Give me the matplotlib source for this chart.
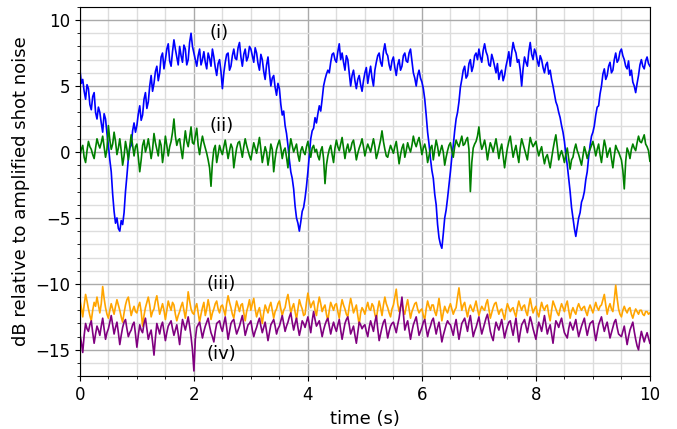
import matplotlib
matplotlib.use("Agg")
import matplotlib.pyplot as plt
import numpy as np
from matplotlib.ticker import MultipleLocator

trace_i = [
    6.3, 5.2, 5.5, 4.6, 4.0, 5.1, 4.8, 3.6, 3.2, 4.2, 4.5, 3.0, 2.5, 3.4, 3.0, 2.2, 1.5, 2.9, 2.5, 1.4,
    0.5, -0.6, -1.5, -3.2, -4.5, -5.4, -5.0, -5.8, -6.0, -5.2, -5.5, -4.6, -3.0, -1.8, -0.5, 0.3, 0.5, 1.6, 2.2, 1.5,
    2.0, 2.9, 3.5, 2.4, 2.8, 4.0, 4.5, 3.3, 3.8, 5.0, 5.8, 4.6, 5.2, 6.1, 6.5, 5.4, 6.0, 7.2, 7.5, 6.3,
    7.0, 7.8, 8.2, 6.9, 6.5, 7.6, 8.5, 7.8, 7.2, 6.6, 8.0, 7.3, 6.8, 8.1, 7.8, 6.6, 7.0, 8.3, 9.0, 8.0,
    7.5, 7.0, 6.5, 7.3, 7.8, 6.6, 7.0, 7.6, 6.8, 6.3, 7.5, 7.1, 6.5, 7.8, 7.2, 6.4, 5.8, 6.7, 7.0, 6.1,
    4.8, 6.0, 6.8, 7.4, 7.5, 6.2, 6.5, 7.3, 7.8, 7.1, 7.0, 7.9, 8.3, 7.2, 6.5, 7.4, 7.8, 6.9, 7.2, 8.0,
    7.8, 7.3, 6.8, 7.9, 7.5, 6.7, 6.2, 7.4, 7.0, 6.1, 5.5, 6.6, 7.2, 6.0, 5.0, 5.6, 5.8, 4.9, 4.3, 5.2,
    4.8, 3.6, 2.8, 3.1, 2.0, 1.4, 0.5, -0.6, -1.5, -2.0, -2.8, -4.1, -5.0, -5.4, -6.0, -5.3, -4.5, -4.2, -3.5, -2.6,
    -1.5, -0.2, 1.0, 1.6, 1.8, 2.6, 2.2, 2.9, 3.5, 3.1, 4.0, 5.0, 5.5, 5.9, 6.2, 6.0, 6.8, 7.4, 7.5, 7.0,
    6.8, 7.6, 8.2, 7.0, 7.5, 6.8, 6.2, 7.3, 7.0, 6.0, 5.0, 5.8, 6.2, 5.4, 4.8, 5.5, 5.8, 5.1, 4.6, 5.4,
    6.0, 6.4, 5.2, 5.9, 6.5, 5.6, 5.0, 6.2, 6.8, 7.3, 7.5, 6.8, 6.5, 7.6, 8.2, 7.5, 7.3, 6.6, 6.2, 6.9,
    7.2, 6.4, 5.8, 6.6, 7.0, 6.2, 6.5, 7.3, 7.5, 6.9, 6.8, 7.5, 7.8, 6.9, 6.0, 5.6, 5.0, 5.8, 6.2, 5.6,
    5.3, 4.8, 4.0, 2.8, 1.5, 0.6, -0.5, -1.4, -2.0, -3.2, -4.0, -5.5, -6.5, -7.0, -7.3, -6.2, -5.0, -4.4, -3.5, -2.5,
    -1.5, -0.4, 0.5, 1.6, 2.5, 3.0, 3.8, 4.9, 5.5, 6.2, 6.5, 5.6, 5.8, 6.7, 7.0, 6.1, 6.5, 7.3, 7.5, 7.0,
    7.8, 7.2, 6.8, 7.7, 8.2, 7.6, 7.3, 6.6, 6.5, 7.4, 7.0, 6.5, 6.0, 6.7, 5.5, 6.0, 6.2, 5.4, 5.8, 6.5,
    7.0, 7.6, 6.5, 7.5, 8.3, 7.8, 7.5, 6.8, 7.0, 6.2, 5.0, 6.3, 7.2, 6.8, 6.5, 7.6, 8.3, 7.4, 7.0, 7.8,
    7.5, 6.9, 6.5, 7.3, 7.0, 6.4, 6.0, 6.6, 6.8, 5.9, 6.2, 5.5, 5.0, 4.4, 3.8, 3.5, 3.0, 2.6, 2.0, 1.5,
    0.8, -0.2, -1.0, -2.0, -3.0, -4.2, -5.0, -5.8, -6.4, -5.7, -5.0, -4.6, -3.8, -3.5, -3.0, -2.1, -1.5, -0.4, 0.5, 1.2,
    1.5, 2.0, 2.8, 3.4, 3.5, 4.4, 5.0, 5.9, 6.3, 5.5, 5.8, 6.5, 6.8, 6.0, 6.2, 7.0, 7.5, 6.8, 7.0, 7.6,
    7.8, 7.3, 7.0, 6.5, 6.3, 6.9, 5.8, 6.2, 5.3, 5.0, 4.5, 5.2, 5.8, 6.6, 7.0, 6.5, 6.3, 6.9, 7.2, 6.7,
    6.5,
]
trace_ii = [
    -0.3, 0.2, 0.5, -0.4, -0.8, 0.1, 0.8, 0.4, 0.2, -0.2, -0.5, 0.3, 1.0, 0.6, 0.3, 0.7, 1.2, 0.4, -0.4, 0.2,
    2.0, 0.9, 0.2, 0.6, 1.5, 0.8, -0.2, 0.3, 1.0, 0.1, -1.0, -0.3, 0.8, 0.2, -0.6, 0.4, 1.3, 0.5, -0.3, 0.4,
    0.6, -0.4, -1.5, -0.6, 0.5, 0.9, 0.0, 0.4, 1.0, 0.3, -0.5, 0.2, 1.4, 0.7, 0.2, -0.3, 0.9, 0.5, -0.8, 0.0,
    1.2, 0.5, -0.3, 0.4, 0.8, 1.5, 2.5, 1.2, 0.5, 0.9, 1.0, 0.2, -0.5, 0.6, 1.6, 0.8, 0.4, 1.1, 1.9, 0.7,
    0.6, 1.2, 1.8, 0.5, -0.2, 0.6, 1.2, 0.7, 0.3, -0.1, -0.6, -1.2, -2.6, -0.8, 0.2, 0.5, -0.8, -0.2, 0.5, 0.1,
    -0.2, 0.4, 0.9, 0.2, -0.5, 0.1, 0.6, 0.3, -1.2, -0.4, 0.3, 0.7, 0.8, 0.2, -0.4, 0.4, 1.0, 0.5, 0.1, -0.3,
    -0.6, 0.1, 0.7, 0.3, -0.1, 0.5, 1.1, 0.2, -0.8, -0.2, 0.4, 0.0, -1.0, -0.3, 0.6, 0.2, -1.5, -0.5, 0.2, 0.6,
    0.9, 0.3, -0.5, 0.1, 0.3, -0.4, -1.2, 0.2, 1.0, 0.5, 0.0, 0.3, 0.6, -0.2, -0.7, 0.1, 0.4, 0.0, -0.2, 0.4,
    0.8, 0.2, -0.4, 0.3, 0.5, 0.0, 0.2, -0.3, -0.6, 0.1, 0.4, -0.5, -2.4, -1.0, -0.3, 0.2, 0.5, -0.2, -0.8, 0.3,
    0.9, 0.4, 0.1, 0.6, 1.1, 0.3, -0.5, 0.2, 0.6, 0.0, 0.2, 0.7, 0.9, 0.2, -0.6, -0.1, 0.3, 0.6, 1.0, 0.4,
    -0.3, 0.2, 0.6, 0.3, 0.0, 0.5, 1.0, 0.4, -0.5, -0.1, 0.4, 0.9, 1.6, 0.8, 0.2, -0.3, -0.4, 0.1, 0.5, 0.2,
    -0.1, 0.4, 0.8, 0.0, -0.9, -0.2, 0.3, 0.6, -0.4, 0.1, 0.7, 0.3, 0.0, 0.5, 1.2, 0.7, 0.4, 0.8, 1.1, 0.5,
    -0.2, 0.3, 0.6, 0.1, -0.8, -0.3, 0.3, 0.5, -0.6, 0.2, 0.9, 0.4, -0.3, 0.1, 0.5, 0.0, -1.0, -0.4, 0.1, 0.5,
    0.7, 0.1, -0.4, 0.4, 0.9, 0.6, 0.4, 0.8, 1.2, 0.5, 0.6, 0.9, 1.1, 0.2, -3.0, -0.8, 0.3, 0.6, 0.8, 1.2,
    1.9, 0.8, 0.2, 0.5, 0.9, 0.3, -0.6, 0.1, 0.7, 0.4, 0.0, 0.5, 1.0, 0.3, -0.5, 0.2, 0.6, -0.3, -1.2, -0.4,
    0.3, 0.8, 1.2, 0.4, -0.4, 0.1, 0.5, -0.2, -0.8, 0.3, 1.0, 0.6, 0.2, -0.2, -0.6, 0.3, 1.1, 0.7, 0.4, 0.6,
    0.8, 0.2, -0.3, 0.1, 0.4, -0.3, -0.9, -0.4, -0.2, -0.7, -1.2, -0.5, 0.2, 0.8, 1.3, 0.4, -0.6, -0.2, 0.1, -0.3,
    -0.8, -0.2, 0.3, -0.5, -1.3, -0.6, -0.4, 0.2, 0.6, 0.1, -0.2, -0.6, -1.0, -0.3, 0.4, 0.0, -0.5, -0.1, 0.2, 0.5,
    0.8, 0.3, -0.3, 0.2, 0.6, -0.2, -0.8, 0.1, 0.9, 0.4, -0.4, 0.0, 0.3, -0.5, -1.2, -0.3, 0.5, 0.2, 0.0, -0.3,
    -0.6, -1.4, -2.8, -0.7, 0.3, 0.0, -0.5, 0.2, 0.6, 0.3, 0.1, 0.7, 1.2, 0.8, 0.7, 1.0, 1.3, 0.6, 0.4, 0.1,
    -0.7,
]
trace_iii = [
    -11.2, -11.8, -12.5, -11.6, -10.8, -11.3, -11.9, -12.4, -12.8, -12.0, -11.4, -11.7, -11.0, -11.6, -12.2, -11.5, -10.2, -11.1, -11.8, -12.3,
    -12.6, -12.0, -11.5, -11.9, -12.3, -11.7, -11.2, -11.6, -12.0, -12.5, -12.9, -12.2, -11.6, -11.2, -11.0, -11.7, -12.4, -12.0, -11.7, -12.1,
    -12.2, -11.7, -11.4, -12.1, -13.2, -12.4, -11.8, -11.4, -11.0, -11.6, -12.5, -12.1, -11.9, -11.3, -10.9, -11.6, -12.3, -11.9, -11.5, -12.0,
    -12.7, -12.0, -11.3, -11.7, -12.0, -11.4, -11.6, -12.3, -12.8, -12.4, -12.1, -11.7, -11.4, -12.0, -12.6, -11.8, -10.6, -11.3, -11.9, -12.2,
    -12.3, -11.8, -11.5, -12.2, -12.9, -12.3, -11.8, -11.4, -12.4, -11.9, -11.2, -11.8, -12.7, -12.2, -11.9, -11.5, -11.3, -11.9, -12.2, -11.7,
    -11.6, -12.0, -12.4, -11.5, -10.9, -11.4, -11.8, -12.3, -12.6, -11.9, -11.3, -11.7, -12.1, -11.6, -11.5, -12.2, -12.8, -12.1, -11.7, -11.2,
    -12.0, -11.5, -11.1, -11.9, -12.5, -12.1, -11.8, -12.4, -13.0, -12.2, -11.6, -11.9, -12.2, -11.7, -11.4, -12.0, -12.6, -12.1, -11.9, -11.5,
    -11.3, -11.9, -12.4, -12.0, -11.8, -11.2, -10.8, -11.5, -12.2, -11.8, -11.5, -12.1, -12.7, -11.9, -11.2, -11.6, -11.9, -12.4, -12.3, -11.4,
    -10.7, -11.3, -11.8, -11.5, -11.3, -12.0, -12.4, -11.6, -11.0, -11.5, -12.1, -11.8, -11.6, -12.3, -12.8, -12.0, -11.4, -11.7, -12.0, -11.6,
    -11.5, -12.1, -12.6, -11.8, -11.2, -11.6, -11.9, -12.3, -12.5, -11.7, -11.1, -11.6, -12.2, -11.9, -11.6, -12.4, -13.1, -12.2, -11.8, -12.0,
    -12.3, -11.8, -11.4, -11.9, -12.0, -11.5, -11.7, -12.3, -12.7, -11.9, -11.3, -11.8, -12.4, -11.6, -11.0, -11.5, -11.8, -12.2, -12.5, -11.9,
    -11.6, -11.0, -10.4, -11.5, -12.1, -11.7, -11.5, -12.0, -12.3, -11.7, -11.2, -11.9, -12.6, -12.1, -11.8, -11.5, -11.4, -11.9, -12.2, -12.0,
    -11.9, -12.4, -12.7, -11.9, -11.3, -11.7, -12.0, -11.6, -11.6, -12.1, -12.4, -11.8, -11.1, -11.9, -12.8, -12.2, -11.7, -12.0, -12.2, -11.8,
    -11.5, -11.9, -12.3, -12.0, -11.8, -11.0, -10.3, -11.2, -12.0, -11.6, -11.4, -12.0, -12.5, -11.9, -11.6, -11.9, -12.1, -11.7, -11.3, -11.9,
    -12.4, -12.0, -11.7, -11.9, -12.0, -11.5, -11.2, -11.9, -12.6, -12.2, -11.8, -11.5, -11.4, -11.9, -12.3, -12.0, -11.9, -12.3, -12.7, -12.0,
    -11.5, -11.8, -12.1, -11.9, -11.8, -12.2, -12.5, -11.8, -11.3, -11.7, -12.0, -11.7, -11.6, -12.1, -12.4, -11.7, -11.1, -11.7, -12.2, -11.9,
    -11.7, -12.2, -12.5, -11.9, -11.4, -11.8, -12.0, -11.7, -11.6, -12.3, -12.8, -12.0, -11.3, -11.6, -11.9, -12.2, -12.4, -11.9, -11.5, -11.8,
    -12.1, -11.6, -11.3, -12.0, -12.6, -12.1, -11.8, -12.1, -12.3, -11.8, -11.5, -11.8, -12.0, -11.8, -11.7, -12.1, -12.4, -11.9, -11.6, -11.9,
    -12.2, -11.8, -11.4, -11.8, -12.0, -11.7, -11.6, -11.2, -10.8, -11.6, -12.3, -11.8, -11.5, -11.9, -12.1, -11.2, -10.1, -11.1, -11.9, -12.3,
    -12.5, -12.0, -11.7, -12.0, -12.2, -11.9, -11.8, -12.3, -12.6, -12.2, -11.9, -12.1, -12.3, -12.0, -12.0, -12.3, -12.4, -12.1, -12.1, -12.3,
    -12.2,
]
trace_iv = [
    -13.8, -14.4, -15.2, -13.9, -13.0, -13.4, -13.6, -13.1, -12.8, -13.7, -14.5, -13.8, -13.2, -13.5, -13.9, -13.2, -12.6, -13.4, -14.2, -13.7,
    -13.4, -12.9, -12.4, -13.1, -13.8, -13.3, -12.9, -13.7, -14.6, -13.9, -13.3, -12.9, -12.7, -13.4, -14.0, -13.7, -13.5, -13.1, -12.9, -13.8,
    -14.8, -13.9, -13.1, -13.5, -13.7, -13.0, -12.6, -13.4, -14.2, -13.8, -13.5, -14.4, -15.4, -14.1, -13.0, -13.4, -13.8, -13.2, -12.9, -13.6,
    -14.3, -13.7, -13.2, -13.0, -12.8, -13.4, -13.9, -13.5, -13.1, -13.8, -14.6, -13.6, -12.7, -13.1, -13.5, -13.0, -12.5, -13.2, -14.0, -15.0,
    -16.6, -14.2, -13.3, -13.1, -12.9, -13.5, -14.1, -13.6, -13.2, -12.9, -12.6, -13.2, -13.7, -14.0, -14.4, -13.6, -13.0, -12.9, -12.8, -13.3,
    -13.6, -13.0, -12.5, -13.3, -14.2, -13.6, -13.0, -12.8, -12.7, -13.3, -13.8, -13.5, -13.2, -12.8, -12.4, -13.1, -13.9, -13.5, -13.1, -13.0,
    -12.8, -13.5, -14.0, -13.6, -13.3, -12.9, -12.6, -13.2, -13.7, -13.3, -12.9, -13.6, -14.3, -13.7, -13.1, -12.9, -12.7, -13.2, -13.8, -13.4,
    -13.2, -12.8, -12.4, -13.0, -13.6, -13.2, -12.9, -12.5, -12.2, -12.9, -13.5, -13.0, -12.6, -13.3, -13.9, -13.4, -12.8, -13.0, -13.3, -12.9,
    -12.5, -13.1, -13.7, -12.8, -12.1, -12.7, -13.2, -13.0, -12.8, -13.4, -14.0, -13.5, -13.1, -12.8, -12.6, -13.2, -13.8, -13.3, -12.9, -13.3,
    -13.6, -13.1, -12.7, -13.5, -14.2, -13.6, -13.0, -12.7, -12.5, -13.1, -13.8, -13.5, -13.2, -13.9, -14.5, -13.7, -12.9, -13.1, -13.4, -13.2,
    -13.1, -13.6, -14.0, -13.3, -12.8, -13.2, -13.6, -12.9, -12.4, -13.4, -14.3, -13.8, -13.3, -12.9, -12.7, -13.4, -14.1, -13.6, -13.2, -13.0,
    -12.9, -13.3, -13.7, -13.1, -12.6, -11.8, -11.0, -12.3, -13.5, -13.1, -12.8, -13.5, -14.2, -13.6, -13.1, -12.8, -12.5, -13.2, -13.9, -13.6,
    -13.3, -12.9, -12.7, -13.4, -14.0, -13.5, -13.2, -12.8, -12.6, -13.2, -13.8, -13.3, -12.9, -13.6, -14.4, -13.9, -13.5, -13.1, -12.8, -13.0,
    -13.1, -13.5, -13.9, -13.2, -12.7, -13.5, -14.2, -13.6, -13.0, -12.8, -12.6, -13.1, -13.6, -12.9, -12.4, -13.2, -14.0, -13.6, -13.3, -12.9,
    -12.5, -13.2, -13.8, -13.4, -13.0, -12.6, -12.3, -12.9, -13.6, -14.0, -14.3, -13.5, -12.9, -13.2, -13.5, -13.1, -12.7, -13.4, -14.1, -13.6,
    -13.2, -12.9, -12.8, -13.4, -13.9, -13.2, -12.6, -13.5, -14.4, -13.7, -13.1, -12.9, -12.7, -13.2, -13.7, -13.1, -12.5, -12.9, -13.4, -13.8,
    -14.2, -13.5, -12.9, -13.2, -13.6, -13.0, -12.4, -13.1, -13.8, -13.4, -13.1, -13.8, -14.5, -13.6, -12.8, -13.0, -13.3, -12.9, -12.6, -13.2,
    -13.7, -13.9, -14.1, -13.4, -12.9, -13.2, -13.5, -13.1, -12.7, -13.4, -14.0, -13.6, -13.2, -12.9, -12.6, -13.3, -13.9, -13.4, -13.0, -12.9,
    -12.8, -13.6, -14.3, -13.7, -13.1, -12.8, -12.5, -13.1, -13.6, -13.2, -12.9, -13.5, -14.1, -13.7, -13.3, -12.9, -12.7, -13.3, -13.8, -13.9,
    -14.0, -13.6, -13.2, -13.9, -14.6, -14.0, -13.5, -13.2, -12.9, -13.6, -14.2, -14.7, -15.0, -14.2, -13.6, -14.0, -14.4, -14.0, -13.7, -14.1,
    -14.5,
]

traces = [trace_i, trace_ii, trace_iii, trace_iv]
colors = ["blue", "green", "orange", "purple"]
labels = ["(i)", "(ii)", "(iii)", "(iv)"]
label_pos = [(2.45, 9.0), (2.48, 2.0), (2.48, -10.0), (2.48, -15.3)]

fig = plt.figure(figsize=(6.77, 4.29), dpi=100)
ax = fig.add_axes([0.118, 0.123, 0.842, 0.861])

for vals, c in zip(traces, colors):
    t = np.linspace(0, 10, len(vals))
    ax.plot(t, vals, color=c, lw=1.2)

for (x, y), s in zip(label_pos, labels):
    ax.text(x, y, s, fontsize=13, ha="center", va="center")

ax.set_xlim(0, 10)
ax.set_ylim(-17, 11)
ax.xaxis.set_major_locator(MultipleLocator(2))
ax.xaxis.set_minor_locator(MultipleLocator(0.5))
ax.yaxis.set_major_locator(MultipleLocator(5))
ax.yaxis.set_minor_locator(MultipleLocator(1))
ax.grid(which="major", color="#aaaaaa", lw=1.0)
ax.grid(which="minor", color="#dddddd", lw=1.0)
ax.set_axisbelow(True)
ax.tick_params(labelsize=12)
ax.set_xlabel("time (s)", fontsize=13)
ax.set_ylabel("dB relative to amplified shot noise", fontsize=13)

fig.savefig("out.png", dpi=100)
